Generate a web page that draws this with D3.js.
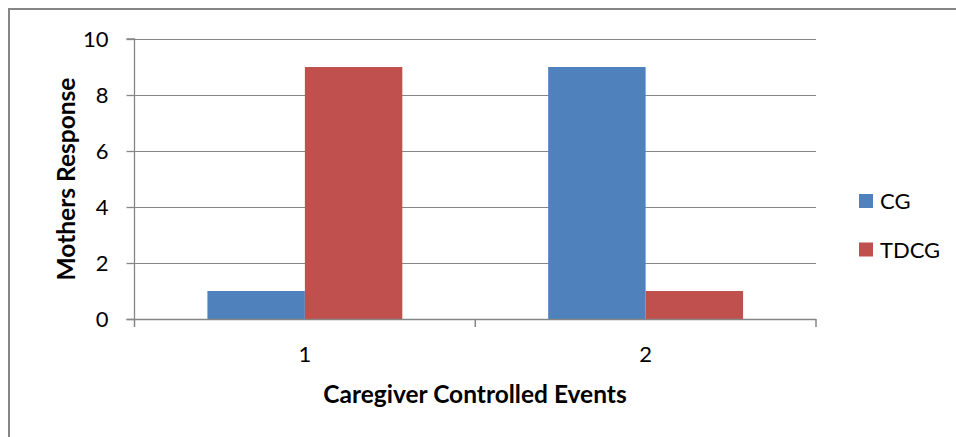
<!DOCTYPE html>
<html><head><meta charset="utf-8">
<script src="https://cdn.jsdelivr.net/npm/d3@7"></script>
<style>body{margin:0;background:#fff}svg{display:block}text{font-family:Lato,"Open Sans",sans-serif;fill:#000}</style>
</head><body><svg id="c" width="956" height="437"></svg>
<script>
const categories = ["1", "2"];
const seriesNames = ["CG", "TDCG"];
const cgValues = [1, 9];
const tdcgValues = [9, 1];
const yTicks = [0, 2, 4, 6, 8, 10];
const colors = ["#4F81BD", "#C0504D"];
const xTitle = "Caregiver Controlled Events";
const yTitle = "Mothers Response";

const seriesValues = [cgValues, tdcgValues];
const svg = d3.select("#c");
const grid = "#868686";
const L = 134.5, R = 816, T = 39, B = 319;

svg.append("rect").attr("x", 9).attr("y", 9).attr("width", 980).attr("height", 460)
  .attr("fill", "none").attr("stroke", grid).attr("stroke-width", 2);

const y = d3.scaleLinear().domain([0, 10]).range([B, T]);
const x0 = d3.scaleBand().domain(categories).range([L, R]).paddingInner(0.428).paddingOuter(0.214);
const x1 = d3.scaleBand().domain(seriesNames).range([0, x0.bandwidth()]);

// gridlines
svg.append("g").selectAll("line").data(yTicks.filter(d => d > 0)).join("line")
  .attr("x1", L).attr("x2", R).attr("y1", d => Math.round(y(d)) + 0.5).attr("y2", d => Math.round(y(d)) + 0.5)
  .attr("stroke", grid).attr("stroke-width", 1);

// bars
const groups = svg.append("g").selectAll("g").data(categories).join("g")
  .attr("transform", c => `translate(${x0(c)},0)`);
groups.selectAll("rect").data((c, i) => seriesNames.map((s, j) => ({s, j, v: seriesValues[j][i]}))).join("rect")
  .attr("x", d => x1(d.s)).attr("width", x1.bandwidth())
  .attr("y", d => y(d.v)).attr("height", d => y(0) - y(d.v))
  .attr("fill", d => colors[d.j]);

// y axis
const yAxis = d3.axisLeft(y).tickValues(yTicks).tickSize(8).tickPadding(18).tickFormat(d3.format("d"));
const gy = svg.append("g").attr("transform", `translate(${L},0)`).call(yAxis);
gy.selectAll("path,line").attr("stroke", grid).attr("stroke-width", 1.3);
gy.select(".domain").attr("d", `M-8,${T}H0V${B}`);
gy.selectAll("text").attr("font-size", 22).attr("font-family", "Lato").attr("fill", "#000").attr("dy", "0.36em");

// x axis
const edges = [L, (L + R) / 2, R];
const gx = svg.append("g");
gx.append("line").attr("x1", L - 8).attr("x2", R).attr("y1", B + 0.5).attr("y2", B + 0.5).attr("stroke", grid).attr("stroke-width", 1.5);
gx.selectAll("line.t").data(edges).join("line").attr("class", "t")
  .attr("x1", d => d).attr("x2", d => d).attr("y1", B).attr("y2", B + 8).attr("stroke", grid).attr("stroke-width", 1.5);
gx.selectAll("text").data(categories).join("text")
  .attr("x", c => x0(c) + x0.bandwidth() / 2).attr("y", 362).attr("text-anchor", "middle")
  .attr("font-size", 22).text(c => c);

// titles
svg.append("text").attr("x", 475).attr("y", 403).attr("text-anchor", "middle")
  .attr("font-size", 24.5).attr("font-weight", "bold").text(xTitle);
svg.append("text").attr("transform", "translate(75,179) rotate(-90)").attr("text-anchor", "middle")
  .attr("font-size", 24.5).attr("font-weight", "bold").text(yTitle);

// legend
const lg = svg.append("g").selectAll("g").data(seriesNames).join("g")
  .attr("transform", (d, i) => `translate(859,${194 + i * 48.5})`);
lg.append("rect").attr("width", 14).attr("height", 14).attr("fill", (d, i) => colors[i]);
lg.append("text").attr("x", 21).attr("y", 15).attr("font-size", 22).text(d => d);
</script></body></html>
